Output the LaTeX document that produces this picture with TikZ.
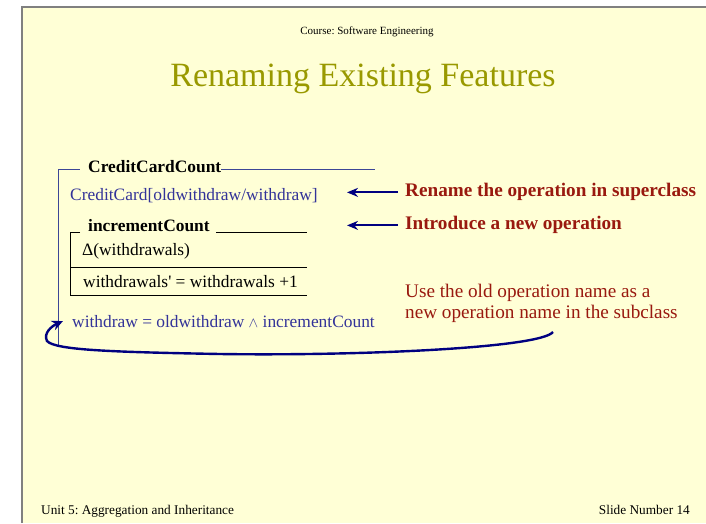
\documentclass[tikz,border=0pt]{standalone}
\usepackage{fontspec}
\setmainfont{Liberation Serif}
\newfontfamily\rawserif{Liberation Serif}[Ligatures=TeXOff]
\usetikzlibrary{arrows.meta}
\definecolor{slidebg}{RGB}{255,255,214}
\definecolor{bordergray}{RGB}{128,128,128}
\definecolor{titleolive}{RGB}{153,153,0}
\definecolor{bodyblue}{RGB}{51,51,153}
\definecolor{framebl}{RGB}{60,70,150}
\definecolor{arrnavy}{RGB}{0,0,128}
\definecolor{notered}{RGB}{153,25,15}
\tikzset{
  txt/.style={anchor=base west, inner sep=0pt, font=\fontsize{17.4}{20}\selectfont},
  bluetxt/.style={txt, text=bodyblue},
  boldtxt/.style={txt, font=\fontsize{17.4}{20}\selectfont\bfseries},
  note/.style={anchor=base west, inner sep=0pt, text=notered, font=\fontsize{19.2}{23}\selectfont},
  boldnote/.style={note, font=\fontsize{19.2}{23}\selectfont\bfseries},
  foot/.style={anchor=base west, inner sep=0pt, font=\fontsize{13.3}{15}\selectfont},
  framel/.style={draw=framebl, line width=1pt},
  boxl/.style={draw=black, line width=1pt},
  arr/.style={draw=arrnavy, line width=2.2pt, -{Stealth[length=11pt,width=9pt]}},
  curvearr/.style={draw=arrnavy, line width=2.4pt, -{Stealth[length=11pt,width=10pt]}}
}
\begin{document}
\frenchspacing
\begin{tikzpicture}[x=1pt,y=-1pt]
\useasboundingbox (0,0) rectangle (706,523);
% slide background
\fill[slidebg] (22,7) rectangle (706,523);
\draw[bordergray, line width=1.2pt] (22,523) -- (22,7) -- (706,7);
% header and title
\node[anchor=base, inner sep=0pt, font=\fontsize{11}{13}\selectfont] (course) at (367,34) {Course: Software Engineering};
\node[anchor=base, inner sep=0pt, text=titleolive, font=\fontsize{34}{40}\selectfont] (title) at (363,86) {Renaming Existing Features};
% CreditCardCount schema
\node[boldtxt] (cc) at (88,172) {CreditCardCount};
\draw[framel] (58,345) -- (58,169) -- (80,169);
\draw[framel] (cc.base east |- 0,169) -- (375,169);
\node[bluetxt] (ccinc) at (70,200) {CreditCard[oldwithdraw/withdraw]};
% incrementCount schema
\node[boldtxt] (ic) at (88,231) {incrementCount};
\draw[boxl] (80,232.5) -- (70,232.5) -- (70,295.5) -- (306.5,295.5);
\draw[boxl] (216,232.5) -- (306.5,232.5);
\draw[boxl] (70,267.5) -- (306.5,267.5);
\node[txt] (delta) at (82,255) {Δ(withdrawals)};
\node[txt] (pred) at (83,287) {withdrawals{\rawserif'} = withdrawals +1};
\node[bluetxt] (wd) at (72,327) {withdraw = oldwithdraw {\fontsize{15}{15}\selectfont$\wedge$} incrementCount};
% notes
\node[boldnote] (rename) at (405,196) {Rename the operation in superclass};
\node[boldnote] (intro) at (405,229) {Introduce a new operation};
\node[note] (use1) at (405,297) {Use the old operation name as a};
\node[note] (use2) at (405,318) {new operation name in the subclass};
% arrows
\draw[arr] ([xshift=-7pt,yshift=-1pt]rename.west) -- ([xshift=-58pt,yshift=-1pt]rename.west);
\draw[arr] ([xshift=-7pt,yshift=-1pt]intro.west) -- ([xshift=-58pt,yshift=-1pt]intro.west);
\coordinate (cstart) at ([xshift=148pt,yshift=-14pt]use2.base west);
\coordinate (cend) at ([xshift=-9pt,yshift=6pt]wd.base west);
\draw[curvearr] (cstart) .. controls (540,348) and (360,356) .. (220,354)
  .. controls (110,352) and (55,350) .. (47,341)
  .. controls (43,333) and (52,326) .. (cend);
% footer
\node[foot] (unit) at (41,514) {Unit 5: Aggregation and Inheritance};
\node[foot, anchor=base east] (slnum) at (690,514) {Slide Number 14};
\end{tikzpicture}
\end{document}
